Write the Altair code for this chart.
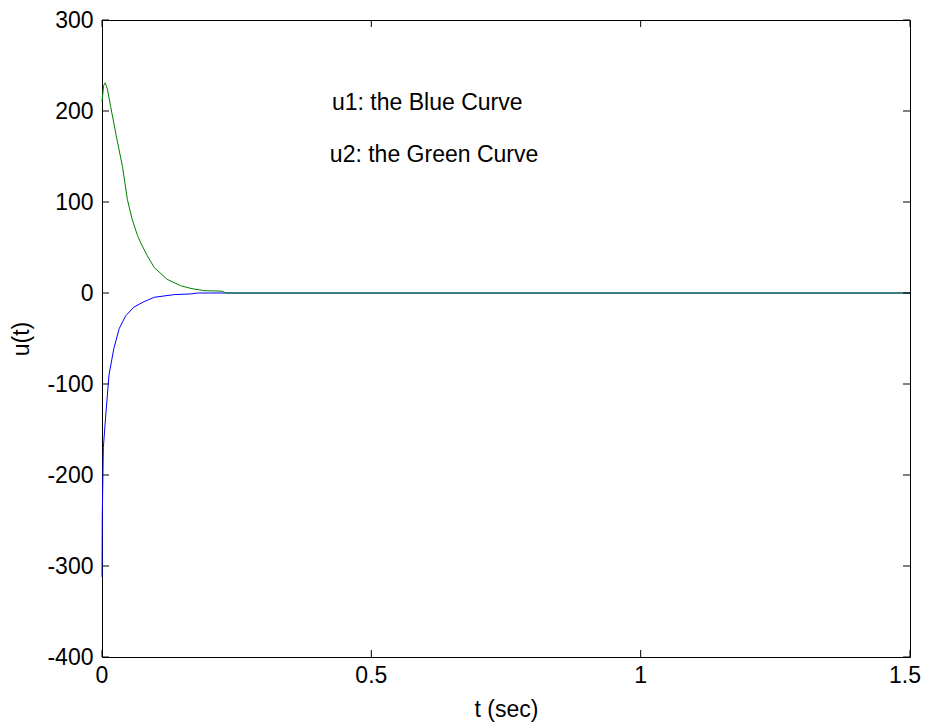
import altair as alt
import pandas as pd

# Series data
blue_t = [0, 0.0005, 0.0025, 0.007, 0.013, 0.022, 0.032, 0.044, 0.059, 0.078, 0.097, 0.134, 0.165, 0.177, 1.5]
blue_u = [-312, -245, -170, -134, -90, -61, -39, -25, -15.6, -9.5, -4.7, -1.8, -1, 0, 0]

green_t = [0, 0.003, 0.006, 0.01, 0.016, 0.028, 0.038, 0.047, 0.056, 0.066, 0.072, 0.084, 0.097, 0.121, 0.146, 0.165, 0.189, 0.223, 0.23, 1.5]
green_u = [210, 228, 231, 224, 205, 168, 139, 103, 81, 63, 55, 41, 28, 15, 8, 5, 2.6, 2, 0, 0]

x_ticks = [0, 0.5, 1, 1.5]
x_labels = ["0", "0.5", "1", "1.5"]
y_ticks = [-400, -300, -200, -100, 0, 100, 200, 300]

notes = ["u1: the Blue Curve", "u2: the Green Curve"]
note_t = [0.427, 0.423]
note_u = [209, 152]

W, H = 808, 637
FONT = "Liberation Sans"
FS = 23

blue_df = pd.DataFrame({"t": blue_t, "u": blue_u})
green_df = pd.DataFrame({"t": green_t, "u": green_u})
xt_df = pd.DataFrame({"t": x_ticks, "label": x_labels})
yt_df = pd.DataFrame({"u": y_ticks})
note_df = pd.DataFrame({"label": notes, "t": note_t, "u": note_u})

xscale = alt.Scale(domain=[0, 1.5], nice=False, zero=False)
yscale = alt.Scale(domain=[-400, 300], nice=False, zero=False)

xaxis = alt.Axis(values=x_ticks, labels=False, title="t (sec)", grid=False,
                 tickSize=0, domain=False, titleY=41, titleBaseline="top")
yaxis = alt.Axis(values=y_ticks, labelExpr="datum.value + ''", title="u(t)", grid=False,
                 tickSize=0, labelPadding=9, domain=False, labelFlush=False,
                 labelOverlap=False, titleX=-69)

x_enc = alt.X("t:Q", scale=xscale, axis=xaxis)
y_enc = alt.Y("u:Q", scale=yscale, axis=yaxis)

blue = alt.Chart(blue_df).mark_line(color="#0000ff", strokeWidth=1).encode(
    x=x_enc, y=y_enc, order="t:Q")
green = alt.Chart(green_df).mark_line(color="#008000", strokeWidth=1).encode(
    x=alt.X("t:Q", scale=xscale), y=alt.Y("u:Q", scale=yscale), order="t:Q")

tick_len = 7
left_ticks = alt.Chart(yt_df).mark_rule(color="black", strokeWidth=1).encode(
    y=alt.Y("u:Q", scale=yscale), x=alt.value(0), x2=alt.value(tick_len))
right_ticks = alt.Chart(yt_df).mark_rule(color="black", strokeWidth=1).encode(
    y=alt.Y("u:Q", scale=yscale), x=alt.value(W), x2=alt.value(W - tick_len))
bottom_ticks = alt.Chart(xt_df).mark_rule(color="black", strokeWidth=1).encode(
    x=alt.X("t:Q", scale=xscale), y=alt.value(H), y2=alt.value(H - tick_len))
top_ticks = alt.Chart(xt_df).mark_rule(color="black", strokeWidth=1).encode(
    x=alt.X("t:Q", scale=xscale), y=alt.value(0), y2=alt.value(tick_len))

# x tick labels (last one nudged so it stays inside the page)
xlab_main = alt.Chart(xt_df[xt_df["t"] < 1.5]).mark_text(
    align="center", baseline="top", font=FONT, fontSize=FS, color="black").encode(
    x=alt.X("t:Q", scale=xscale), y=alt.value(H + 8), text="label:N")
xlab_last = alt.Chart(xt_df[xt_df["t"] >= 1.5]).mark_text(
    align="center", baseline="top", font=FONT, fontSize=FS, color="black", dx=-5).encode(
    x=alt.X("t:Q", scale=xscale), y=alt.value(H + 8), text="label:N")

text = alt.Chart(note_df).mark_text(align="left", baseline="middle", font=FONT,
                                    fontSize=FS, color="black").encode(
    x=alt.X("t:Q", scale=xscale), y=alt.Y("u:Q", scale=yscale), text="label:N")

chart = alt.layer(blue, green, left_ticks, right_ticks, bottom_ticks, top_ticks,
                  xlab_main, xlab_last, text).properties(
    width=W, height=H,
    padding={"left": 94, "top": 12, "right": 12, "bottom": 67},
    autosize=alt.AutoSizeParams(type="none"),
    background="white",
).configure_view(
    stroke="black", strokeWidth=1
).configure_axis(
    labelFont=FONT, titleFont=FONT, labelFontSize=FS, titleFontSize=FS,
    labelColor="black", titleColor="black", titleFontWeight="normal",
)

chart.save("out.html", embed_options={"renderer": "svg", "actions": False})
